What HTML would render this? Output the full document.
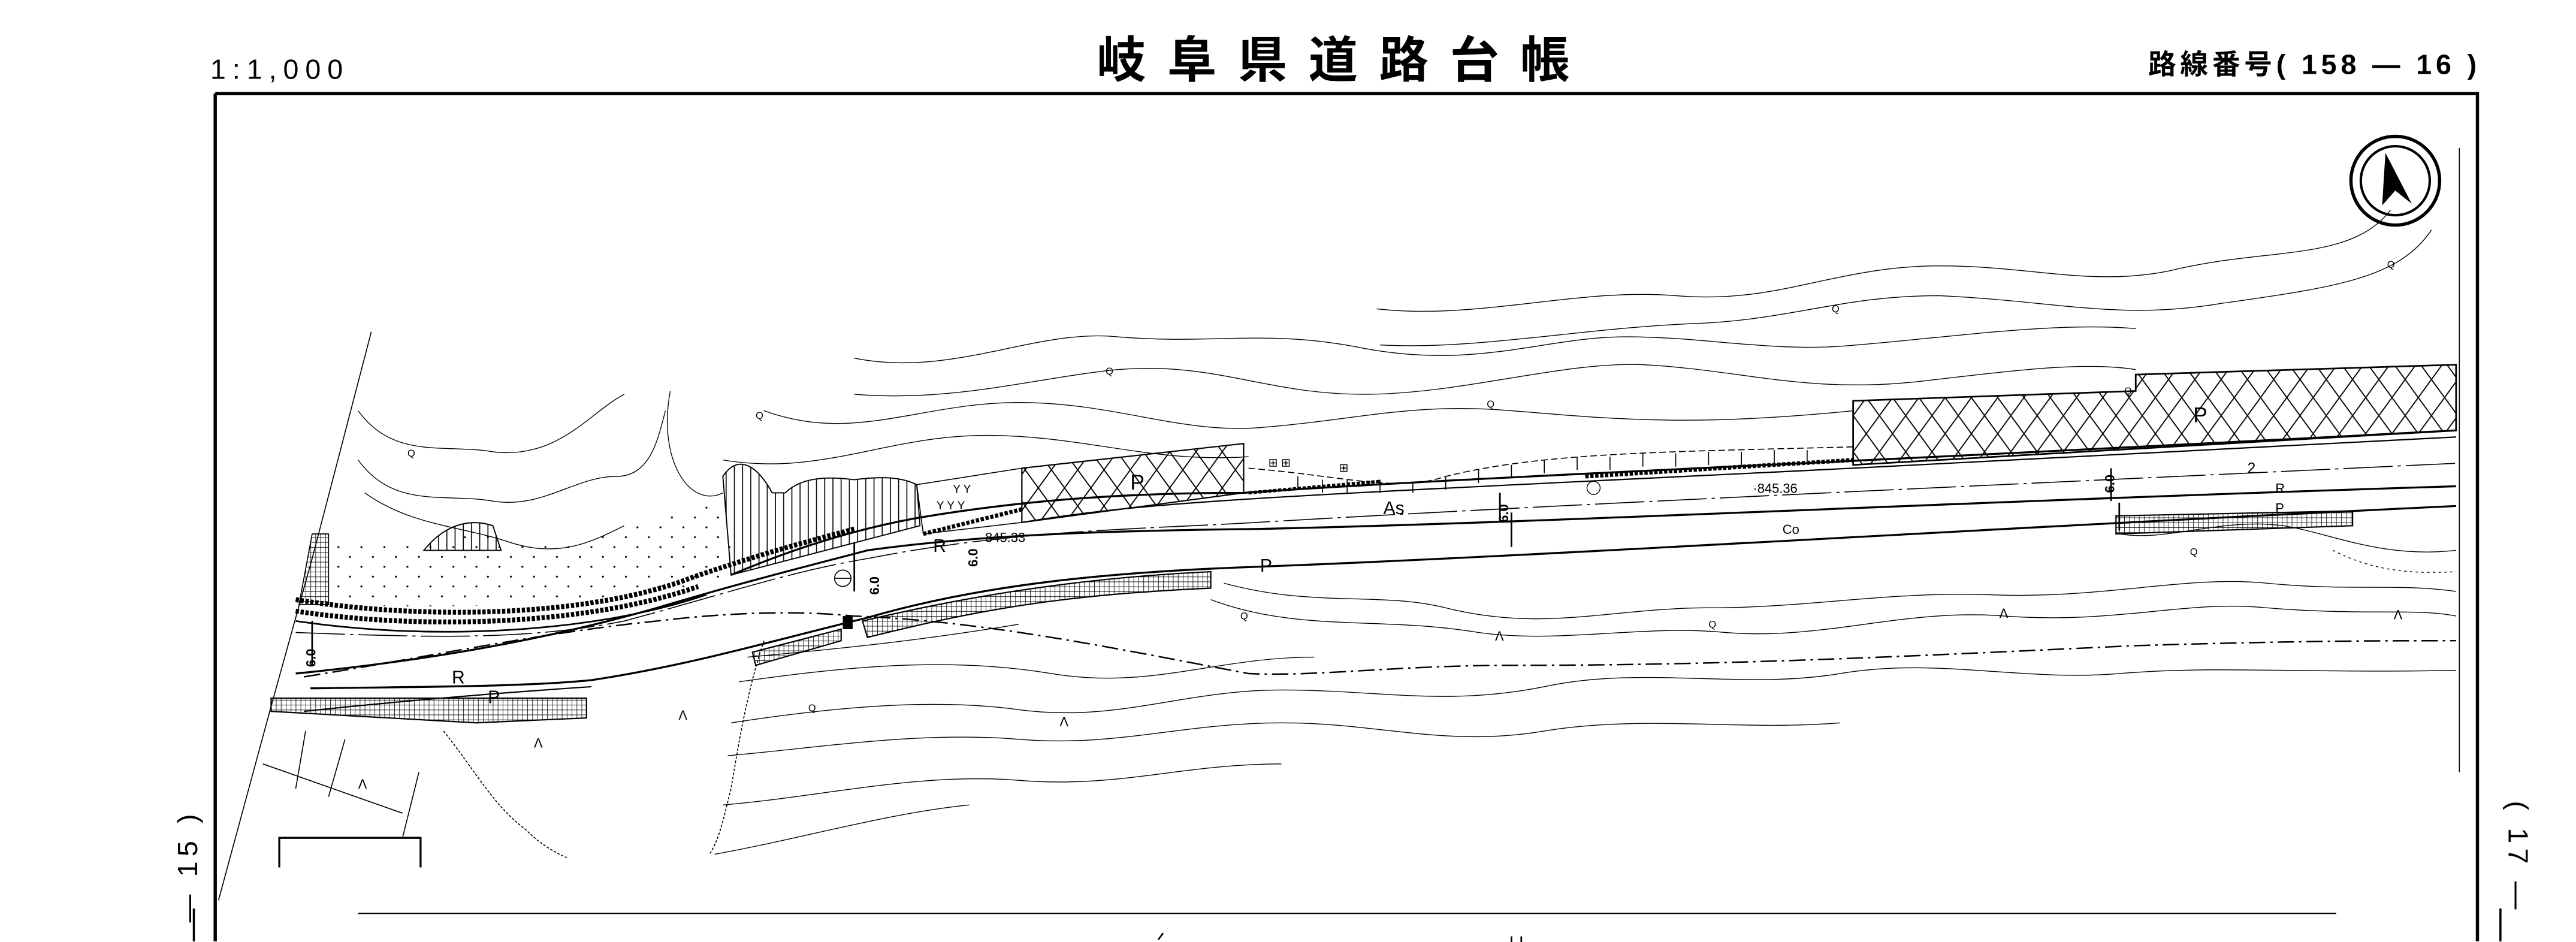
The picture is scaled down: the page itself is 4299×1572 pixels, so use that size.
<!DOCTYPE html>
<html><head><meta charset="utf-8"><style>
html,body{margin:0;padding:0;background:#fff;}
svg{display:block;}
text{font-family:"Liberation Sans","Noto Sans CJK JP",sans-serif;fill:#000;}
</style></head><body>
<svg width="4299" height="1572" viewBox="0 0 1568 573.4" preserveAspectRatio="none" xmlns="http://www.w3.org/2000/svg">
<defs>
<pattern id="xh" width="16" height="22" patternUnits="userSpaceOnUse">
<path d="M0 0 L16 22 M16 0 L0 22" stroke="#000" stroke-width="0.7" fill="none"/>
</pattern>
<pattern id="grid" width="3" height="3" patternUnits="userSpaceOnUse">
<path d="M0 0 H3 M0 0 V3" stroke="#000" stroke-width="0.6" fill="none"/>
</pattern>
<pattern id="dots" width="14" height="12" patternUnits="userSpaceOnUse">
<circle cx="3" cy="3" r="0.6" fill="#000"/><circle cx="10" cy="9" r="0.6" fill="#000"/>
</pattern>
<pattern id="vl" width="5" height="40" patternUnits="userSpaceOnUse">
<path d="M2 0 V40" stroke="#000" stroke-width="0.6"/>
</pattern>
</defs>
<rect width="1568" height="573.4" fill="#fff"/>

<!-- header -->
<text x="128" y="48" font-size="17" letter-spacing="4">1:1,000</text>
<text x="818" y="47" font-size="30" font-weight="bold" text-anchor="middle" letter-spacing="13">岐阜県道路台帳</text>
<text x="1510" y="45" font-size="17" font-weight="bold" text-anchor="end" letter-spacing="2.5">路線番号( 158 — 16 )</text>

<!-- frame -->
<path d="M131 57 H1508 V573 M131 57 V573" stroke="#000" stroke-width="2" fill="none"/>
<path d="M1497 90 V470" stroke="#000" stroke-width="0.6"/>
<text transform="translate(120,527) rotate(-90)" font-size="17" text-anchor="middle" letter-spacing="3">— 15 )</text>
<text transform="translate(1527,522) rotate(90)" font-size="17" text-anchor="middle" letter-spacing="3">( 17 —</text>
<path d="M118 553 V573 M1522 553 V573" stroke="#000" stroke-width="1.3"/>
<path d="M218 556 H1422" stroke="#000" stroke-width="0.8"/>
<path d="M705 572 l3 -4 M920 570 l0 4 M926 570 l0 4" stroke="#000" stroke-width="1"/>

<!-- north arrow -->
<circle cx="1458" cy="110" r="27" fill="none" stroke="#000" stroke-width="2"/>
<circle cx="1458" cy="110" r="21" fill="none" stroke="#000" stroke-width="1.5"/>
<path d="M1452 93 L1468 124 L1458 116 L1450 125 Z" fill="#000"/>

<!-- contours north -->
<g fill="none" stroke="#000" stroke-width="0.5">
<path d="M838 188 C900 195 960 175 1020 180 C1080 185 1110 165 1170 162 C1230 160 1270 175 1320 165 C1380 150 1430 160 1455 128"/>
<path d="M840 210 C900 213 960 200 1030 197 C1090 195 1120 180 1180 180 C1250 183 1290 195 1350 185 C1420 175 1460 170 1480 140"/>
<path d="M520 218 C580 230 630 200 680 205 C740 210 770 200 830 212 C900 225 940 205 990 205 C1040 205 1080 215 1130 210 C1190 205 1250 196 1300 200"/>
<path d="M520 240 C580 245 630 230 680 225 C740 220 770 240 830 240 C890 240 950 220 1000 222 C1060 225 1100 240 1170 232 C1230 225 1270 220 1300 225"/>
<path d="M465 250 C520 270 560 245 620 245 C680 245 720 265 770 260 C830 255 860 245 920 250 C980 255 1030 260 1128 250"/>
<path d="M440 280 C500 290 540 265 600 265 C660 265 700 282 760 278"/>
<path d="M408 238 C400 280 420 310 440 300"/>
<path d="M218 250 C240 280 270 270 300 275 C340 280 360 250 380 240"/>
<path d="M218 280 C240 310 270 300 300 305 C330 310 350 290 375 290 C395 290 400 270 405 250"/>
<path d="M222 300 C250 320 280 320 310 330 C340 340 360 330 380 320"/>
<path d="M745 355 C800 370 840 360 880 370 C940 385 980 370 1040 370 C1100 370 1150 360 1210 362 C1280 365 1330 350 1380 355 C1430 360 1460 355 1495 360"/>
<path d="M737 365 C790 385 840 375 900 385 C950 392 1000 380 1050 385 C1110 390 1160 370 1220 375 C1290 380 1330 365 1380 370 C1440 375 1470 370 1495 375"/>
<path d="M1290 325 C1320 330 1350 315 1390 320 C1420 325 1450 340 1495 335"/>
<path d="M450 415 C520 405 580 400 640 410 C700 420 740 400 800 400"/>
<path d="M445 440 C510 430 570 425 620 432 C680 440 720 420 780 420 C840 420 880 430 940 418 C1000 405 1060 420 1120 410 C1180 400 1230 415 1290 410 C1350 405 1400 410 1495 408"/>
<path d="M443 460 C500 455 560 445 620 450 C680 455 720 440 780 440 C840 440 880 455 940 445 C1000 435 1060 445 1120 440"/>
<path d="M440 490 C500 485 560 470 620 475 C680 480 720 465 780 465"/>
<path d="M435 520 C490 510 540 495 590 490"/>
<path d="M455 400 C510 395 560 390 620 380"/>
<path d="M1420 335 C1440 345 1460 350 1495 348" stroke-dasharray="1.5 2"/>
</g>

<!-- left boundary lines -->
<g fill="none" stroke="#000" stroke-width="0.6">
<path d="M226 202 L190 340 L165 430 L133 548"/>
<path d="M186 445 L180 480 M210 450 L200 485 M160 465 L245 495 M255 470 L245 510"/>
<path d="M270 445 C290 470 300 490 320 505 C330 515 340 520 345 522" stroke-dasharray="1.5 1"/>
<path d="M465 390 C455 420 450 450 445 480 C440 500 438 510 432 520" stroke-dasharray="1.5 1"/>
<path d="M170 528 V510 H256 V528" stroke-width="1.2"/>
</g>

<path d="M200 330 L260 332 C280 320 300 325 320 330 C360 335 400 310 440 305 L448 350 C400 365 300 372 200 368 Z" fill="url(#dots)"/>
<path d="M190 325 H200 V368 H182 Z" fill="url(#grid)" stroke="#000" stroke-width="0.6"/>
<path d="M258 335 C270 320 285 315 300 320 L305 335 Z" fill="url(#vl)" stroke="#000" stroke-width="0.7"/>
<path d="M440 290 C450 275 462 285 470 300 L478 300 C488 290 505 290 520 292 C535 290 548 290 558 295 L560 320 L445 350 Z" fill="url(#vl)" stroke="#000" stroke-width="0.7"/>
<path d="M558 295 L622 285 L622 318 L562 325 Z" fill="none" stroke="#000" stroke-width="0.6"/>
<text x="570" y="310" font-size="7">Y Y Y</text>
<text x="580" y="300" font-size="7">Y Y</text>

<!-- guardrail double hatched -->
<path d="M180 365 C260 378 360 375 420 352 C460 338 490 330 520 322" fill="none" stroke="#000" stroke-width="3" stroke-dasharray="2 1"/>
<path d="M180 372 C260 384 360 380 425 357" fill="none" stroke="#000" stroke-width="3" stroke-dasharray="2 1"/>
<path d="M180 378 C260 390 360 386 430 362" fill="none" stroke="#000" stroke-width="1"/>
<path d="M562 325 L622 310" stroke="#000" stroke-width="2.5" stroke-dasharray="2 1"/>

<path d="M622 285 L757 270 L757 300 L622 318 Z" fill="url(#xh)" stroke="#000" stroke-width="0.8"/>
<path d="M1128 244 L1300 238 L1300 228 L1495 222 L1495 262 L1128 283 Z" fill="url(#xh)" stroke="#000" stroke-width="1"/>
<text x="688" y="298" font-size="13">P</text>
<text x="1335" y="257" font-size="13">P</text>

<g stroke="#000" stroke-width="0.6" fill="none">
<path d="M760 285 C820 290 850 300 880 290 C940 275 1020 275 1128 272" stroke-dasharray="4 2"/>
<path d="M790 290 v8 M805 292 v8 M820 292 v8 M840 292 v8 M860 294 v6 M880 290 v8 M900 286 v8 M920 283 v8 M940 280 v8 M960 278 v8 M980 278 v8 M1000 276 v8 M1020 276 v8 M1040 275 v8 M1060 275 v8 M1080 274 v8 M1100 274 v8"/>
<path d="M965 290 L1128 280" stroke-width="2.5" stroke-dasharray="2 1"/>
<path d="M760 300 L840 293" stroke-width="2" stroke-dasharray="2 1"/>
</g>
<text x="772" y="284" font-size="7">⊞ ⊞</text>
<text x="815" y="287" font-size="7">⊞</text>

<g fill="none" stroke="#000">
<path d="M445 350 C480 335 520 322 560 315 C620 305 680 300 757 300 C900 290 1100 283 1495 262" stroke-width="1.2"/>
<path d="M622 318 C700 305 760 303 1128 285 L1495 266" stroke-width="0.8"/>
<path d="M180 385 C260 388 320 390 380 378 C440 362 480 348 528 340 C620 322 700 322 765 318 C950 307 1200 296 1495 282" stroke-width="0.6" stroke-dasharray="30 3 2 3"/>
<path d="M189 419 C260 418 320 418 360 414 C420 405 470 390 528 376 C600 355 680 348 765 345 C950 338 1200 322 1495 308" stroke-width="1.2"/>
<path d="M180 410 C260 402 330 390 400 370 C450 355 490 345 528 335 C600 325 680 323 765 322 C950 318 1200 305 1495 296" stroke-width="1.2"/>
<path d="M185 433 C260 425 330 420 360 418" stroke-width="0.8"/>
<path d="M185 412 C260 400 330 385 400 378 C450 372 490 372 520 375 C600 378 680 395 760 410 C800 412 850 405 920 405 C1050 405 1150 400 1300 393 C1400 390 1450 390 1495 390" stroke-width="0.9" stroke-dasharray="10 3 1.5 3"/>
<path d="M913 300 V318 M920 312 V333 M1285 285 V305 M1290 306 V323 M520 330 V360 M190 378 V405"/>
</g>

<path d="M165 425 L357 425 L357 437 L290 440 L165 433 Z" fill="url(#grid)" stroke="#000" stroke-width="0.8"/>
<path d="M525 378 C580 365 650 352 737 348 L737 358 C650 362 600 370 528 388 Z" fill="url(#grid)" stroke="#000" stroke-width="0.8"/>
<path d="M458 397 L512 383 L512 390 L460 405 Z" fill="url(#grid)" stroke="#000" stroke-width="0.8"/>
<path d="M1288 314 L1432 311 L1432 320 L1288 325 Z" fill="url(#grid)" stroke="#000" stroke-width="0.8"/>
<rect x="513" y="375" width="6" height="8" fill="#000"/>

<g font-size="11">
<text x="275" y="416">R</text>
<text x="297" y="428">P</text>
<text x="568" y="336">R</text>
<text x="767" y="348">P</text>
<text x="842" y="313">As</text>
<text x="1085" y="325" font-size="8">Co</text>
<text x="1385" y="300" font-size="8">R</text>
<text x="1385" y="312" font-size="8">P</text>
<text x="1368" y="288" font-size="9">2</text>
</g>
<text x="597" y="330" font-size="8">·845.33</text>
<text x="1067" y="300" font-size="8">·845.36</text>
<g font-size="8" font-weight="bold">
<text transform="translate(595,345) rotate(-90)">6.0</text>
<text transform="translate(535,362) rotate(-90)">6.0</text>
<text transform="translate(918,318) rotate(-90)">6.0</text>
<text transform="translate(1287,300) rotate(-90)">6.0</text>
<text transform="translate(192,406) rotate(-90)">6.0</text>
</g>
<circle cx="513" cy="352" r="5" fill="none" stroke="#000" stroke-width="0.6"/>
<path d="M508 352 H518" stroke="#000" stroke-width="0.6"/>
<circle cx="970" cy="297" r="4" fill="none" stroke="#000" stroke-width="0.5"/>
<g font-size="6">
<text x="248" y="278">Q</text><text x="460" y="255">Q</text><text x="673" y="228">Q</text>
<text x="905" y="248">Q</text><text x="1115" y="190">Q</text><text x="1453" y="163">Q</text>
<text x="1293" y="240">Q</text><text x="755" y="377">Q</text><text x="1040" y="382">Q</text>
<text x="1333" y="338">Q</text><text x="492" y="433">Q</text>
</g>
<g font-size="8">
<text x="910" y="390">Λ</text><text x="1217" y="376">Λ</text><text x="1457" y="377">Λ</text>
<text x="645" y="442">Λ</text><text x="413" y="438">Λ</text><text x="325" y="455">Λ</text><text x="218" y="480">Λ</text>
</g>
</svg>
</body></html>
